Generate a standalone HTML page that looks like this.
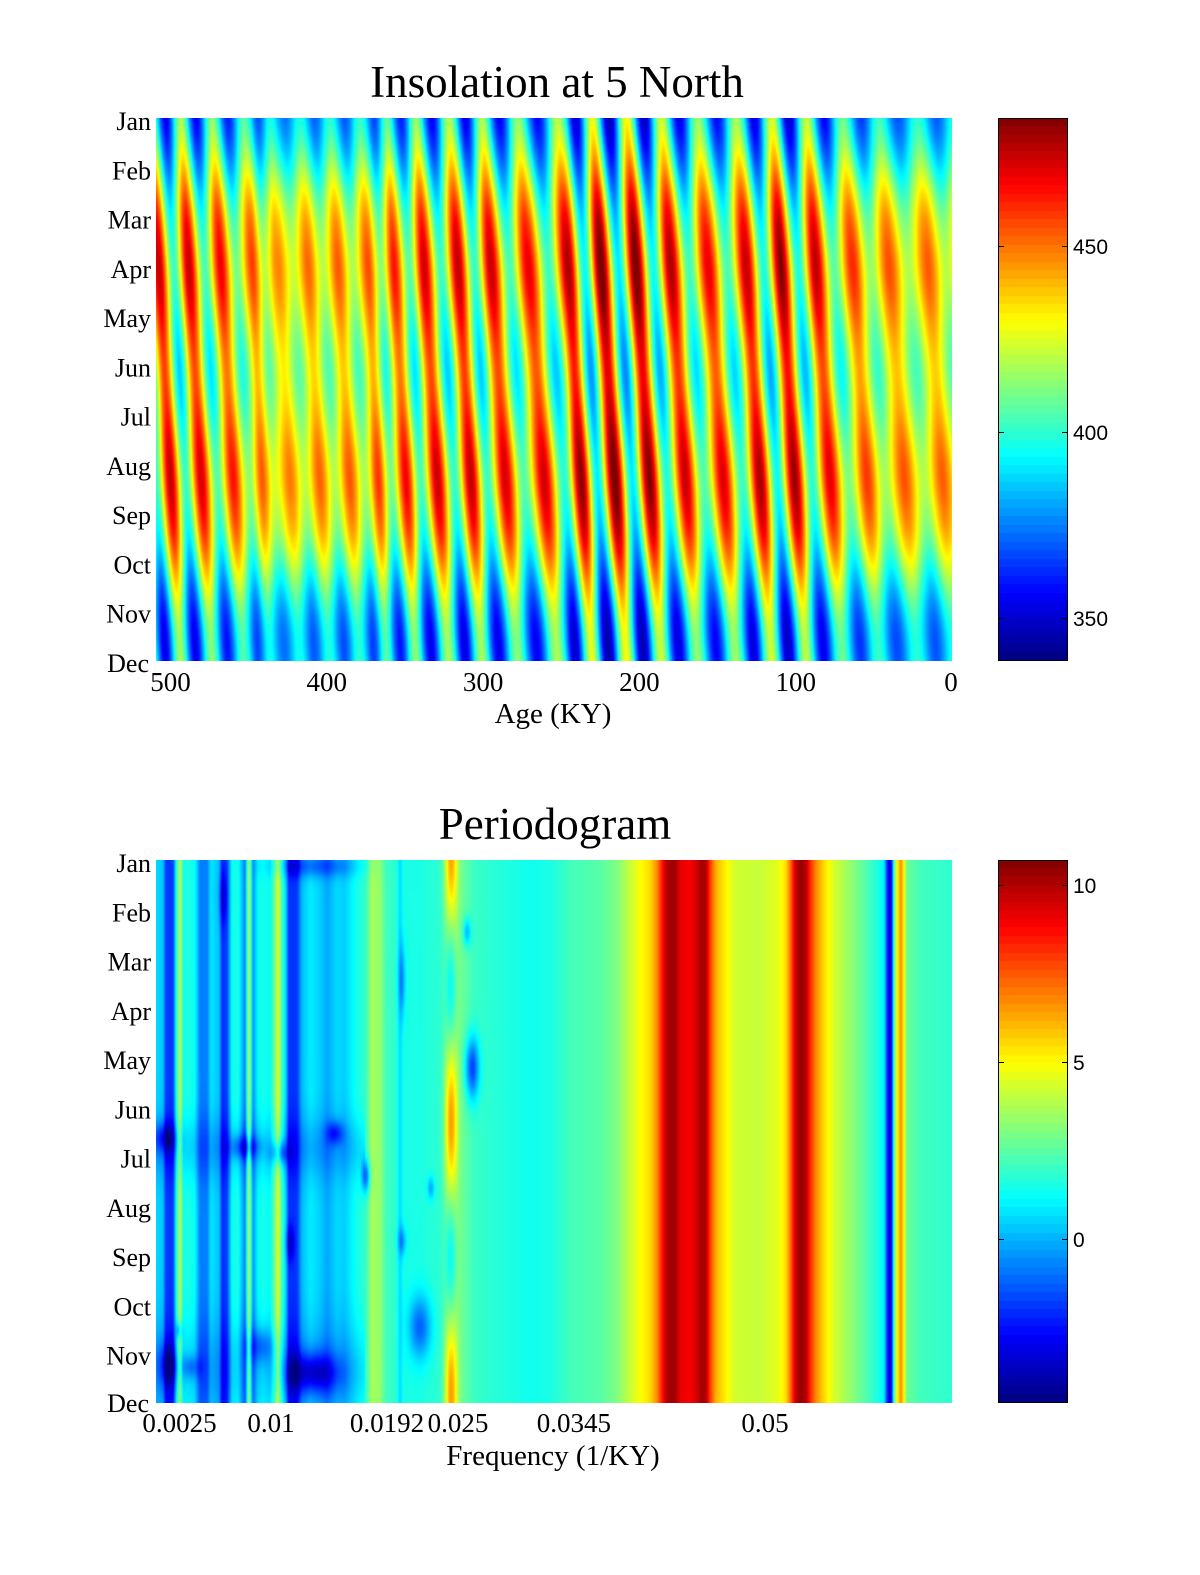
<!DOCTYPE html>
<html><head><meta charset="utf-8">
<style>
html,body{margin:0;padding:0;background:#fff;}
#wrap{position:relative;width:1200px;height:1575px;overflow:hidden;background:#fff;}
canvas{position:absolute;display:block;}
svg{position:absolute;left:0;top:0;}
.m{font-family:"Liberation Serif",serif;font-size:26px;fill:#000;}
.x{font-family:"Liberation Serif",serif;font-size:27px;fill:#000;}
.t{font-family:"Liberation Serif",serif;font-size:45px;fill:#000;}
.l{font-family:"Liberation Serif",serif;font-size:29px;fill:#000;}
.c{font-family:"Liberation Sans",sans-serif;font-size:21px;fill:#000;}
</style></head><body>
<div id="wrap">
<canvas id="c1" width="796" height="543" style="left:156px;top:118px"></canvas>
<canvas id="c2" width="796" height="543" style="left:156px;top:860px"></canvas>
<canvas id="cb1" width="70" height="543" style="left:998px;top:118px"></canvas>
<canvas id="cb2" width="70" height="543" style="left:998px;top:860px"></canvas>
<svg width="1200" height="1575" xmlns="http://www.w3.org/2000/svg">
<text class="t" x="557" y="97" text-anchor="middle">Insolation at 5 North</text>
<text class="t" x="555" y="839" text-anchor="middle">Periodogram</text>
<g class="m" text-anchor="end">
<text x="151" y="130">Jan</text><text x="151" y="179.3">Feb</text><text x="151" y="228.5">Mar</text>
<text x="151" y="277.8">Apr</text><text x="151" y="327.1">May</text><text x="151" y="376.4">Jun</text>
<text x="151" y="425.6">Jul</text><text x="151" y="474.9">Aug</text><text x="151" y="524.2">Sep</text>
<text x="151" y="573.5">Oct</text><text x="151" y="622.7">Nov</text><text x="149" y="672">Dec</text>
<text x="151" y="872">Jan</text><text x="151" y="921.3">Feb</text><text x="151" y="970.5">Mar</text>
<text x="151" y="1019.8">Apr</text><text x="151" y="1069.1">May</text><text x="151" y="1118.4">Jun</text>
<text x="151" y="1167.6">Jul</text><text x="151" y="1216.9">Aug</text><text x="151" y="1266.2">Sep</text>
<text x="151" y="1315.5">Oct</text><text x="151" y="1364.7">Nov</text><text x="149" y="1412">Dec</text>
</g>
<g class="x" text-anchor="middle">
<text x="170.5" y="691">500</text><text x="326.8" y="691">400</text><text x="483.1" y="691">300</text>
<text x="639.4" y="691">200</text><text x="795.7" y="691">100</text><text x="951" y="691">0</text>
<text x="179.5" y="1432">0.0025</text><text x="271" y="1432">0.01</text><text x="387" y="1432">0.0192</text>
<text x="458" y="1432">0.025</text><text x="573.9" y="1432">0.0345</text><text x="765" y="1432">0.05</text>
</g>
<text class="l" x="553" y="723" text-anchor="middle">Age (KY)</text>
<text class="l" x="553" y="1465" text-anchor="middle">Frequency (1/KY)</text>
<g stroke="#000" stroke-width="1" fill="none">
<rect x="998.5" y="118.5" width="69" height="542"/>
<rect x="998.5" y="860.5" width="69" height="542"/>
<path d="M999 246.5h5M1062 246.5h5M999 432.5h5M1062 432.5h5M999 618.5h5M1062 618.5h5"/>
<path d="M999 885.5h5M1062 885.5h5M999 1062.5h5M1062 1062.5h5M999 1239.5h5M1062 1239.5h5"/>
</g>
<g class="c">
<text x="1073" y="254">450</text><text x="1073" y="440">400</text><text x="1073" y="626">350</text>
<text x="1073" y="893">10</text><text x="1073" y="1070">5</text><text x="1073" y="1247">0</text>
</g>
</svg>
</div>
<script>
(function(){
function cl(a){return a<0?0:(a>1?1:a);}
function jet(v){v=cl(v);return [cl(1.5-Math.abs(4*v-3))*255,cl(1.5-Math.abs(4*v-2))*255,cl(1.5-Math.abs(4*v-1))*255];}
function interp(k,x){
  if(x<=k[0][0])return k[0][1];
  for(var i=0;i<k.length-1;i++){
    if(x<=k[i+1][0]){var t=(x-k[i][0])/(k[i+1][0]-k[i][0]);return k[i][1]+t*(k[i+1][1]-k[i][1]);}
  }
  return k[k.length-1][1];
}
var W=796,H=543;
/* ---------- Insolation ---------- */
var c1=document.getElementById('c1'),g1=c1.getContext('2d');
var im=g1.createImageData(W,H),d=im.data;
var phi=5*Math.PI/180,eps=23.44*Math.PI/180,C=1361/Math.PI;
var lam0=2*Math.PI*(88.7-80)/365;
var geom=new Float64Array(H),lam=new Float64Array(H),boost=new Float64Array(H);
for(var j=0;j<H;j++){
  var day=(j+0.5)/H*365;
  var l=2*Math.PI*(day-80)/365;lam[j]=l;
  var dl=Math.asin(Math.sin(eps)*Math.sin(l));
  var cc=-Math.tan(phi)*Math.tan(dl);cc=Math.max(-1,Math.min(1,cc));
  var h0=Math.acos(cc);
  geom[j]=h0*Math.sin(phi)*Math.sin(dl)+Math.cos(phi)*Math.cos(dl)*Math.sin(h0);
  boost[j]=10*Math.max(0,-Math.sin(l));
}
var peaks=[126,158,188,220,252,277,307,337,367,393,423,457,490,527,567,600,635,670,707,745,780,815,852,888,927,964];
function kOf(X){for(var i=0;i<peaks.length-1;i++){if(X<=peaks[i+1])return i+(X-peaks[i])/(peaks[i+1]-peaks[i]);}return peaks.length-1;}
var ecc=[[156,0.042],[188,0.042],[220,0.036],[252,0.025],[277,0.013],[307,0.018],[337,0.02],[367,0.022],[393,0.031],[423,0.04],[457,0.043],[490,0.042],[527,0.036],[567,0.046],[600,0.056],[635,0.056],[670,0.046],[707,0.036],[745,0.042],[780,0.052],[815,0.044],[852,0.028],[888,0.022],[927,0.02],[952,0.019]];
for(var i=0;i<W;i++){
  var X=156+i+0.5;
  var w=lam0+2*Math.PI*kOf(X);
  var e=interp(ecc,X);
  for(var j=0;j<H;j++){
    var f=(1+e*Math.cos(lam[j]-w))/(1-e*e);
    var Q=C*geom[j]*f*f+boost[j];
    var col=jet((Q-338.7)/(484.4-338.7));
    var p=(j*W+i)*4;d[p]=col[0];d[p+1]=col[1];d[p+2]=col[2];d[p+3]=255;
  }
}
g1.putImageData(im,0,0);
/* ---------- Periodogram ---------- */
var c2=document.getElementById('c2'),g2=c2.getContext('2d');
var im2=g2.createImageData(W,H),d2=im2.data;
var prof=[[156,0.34],[163,0.32],[166,0.18],[173,0.18],[176,0.38],[180,0.58],[183,0.40],[190,0.40],[195,0.38],[200,0.25],[207,0.25],[211,0.35],[219,0.32],[222,0.17],[227,0.19],[232,0.39],[238,0.40],[245,0.25],[249,0.57],[253,0.27],[258,0.38],[263,0.40],[270,0.38],[274,0.47],[278,0.60],[282,0.44],[286,0.33],[289,0.17],[297,0.18],[302,0.31],[310,0.36],[320,0.33],[327,0.29],[337,0.34],[345,0.33],[352,0.37],[358,0.40],[366,0.43],[372,0.54],[380,0.52],[386,0.44],[396,0.42],[400,0.34],[404,0.40],[420,0.40],[440,0.42],[446,0.46],[451,0.45],[457,0.50],[465,0.47],[475,0.43],[500,0.41],[530,0.39],[550,0.40],[570,0.44],[600,0.46],[617,0.50],[630,0.57],[640,0.62],[650,0.66],[657,0.74],[662,0.85],[667,0.96],[675,0.97],[680,0.90],[690,0.88],[697,0.92],[702,0.97],[706,0.95],[710,0.82],[716,0.70],[725,0.64],[735,0.58],[760,0.57],[778,0.60],[786,0.66],[791,0.78],[795,0.92],[800,0.98],[806,0.95],[810,0.84],[816,0.74],[824,0.66],[835,0.58],[850,0.52],[865,0.46],[878,0.40],[884,0.36],[887,0.18],[890,0.06],[892,0.18],[894,0.45],[897,0.62],[901,0.74],[904,0.62],[907,0.48],[920,0.44],[935,0.43],[952,0.42]];
var blobs=[[223,897,3,18,-0.1],[315,866,30,8,-0.12],[335,1133,6,8,-0.15],[165,1138,8,10,-0.15],[472,1068,5,22,-0.25],[467,932,3,10,-0.15],[245,1147,10,8,-0.15],[280,1153,6,8,-0.15],[366,1176,3,12,-0.2],[290,1243,3,12,-0.12],[402,1241,3,10,-0.12],[431,1188,2.5,8,-0.12],[420,1327,8,22,-0.18],[313,1373,18,14,-0.22],[168,1365,7,15,-0.15],[191,1367,7,8,-0.1],[260,1346,10,12,-0.12],[179,1330,2,6,-0.15],[402,980,2.5,25,-0.12]];
var pcol=new Float64Array(W);
for(var i=0;i<W;i++)pcol[i]=interp(prof,156+i+0.5);
for(var j=0;j<H;j++){
  var Y=860+j+0.5;
  var day=(j+0.5)/H*365;
  var s=Math.sin(2*Math.PI*(day-85)/365);var wl=s*s;
  var rowmod=-0.06*(Math.exp(-Math.pow((Y-1148)/22,2)/2)+Math.exp(-Math.pow((Y-1370)/35,2)/2));
  for(var i=0;i<W;i++){
    var X=156+i+0.5;
    var v=pcol[i];
    var gx=Math.exp(-Math.pow((X-451)/4,2)/2);
    v+=gx*(0.34*wl-0.07);
    if(X<365)v+=rowmod;
    for(var b=0;b<blobs.length;b++){
      var B=blobs[b];var dx=(X-B[0])/B[2],dy=(Y-B[1])/B[3];
      var q=dx*dx+dy*dy;if(q<20)v+=B[4]*Math.exp(-q/2);
    }
    var col=jet(v);
    var p=(j*W+i)*4;d2[p]=col[0];d2[p+1]=col[1];d2[p+2]=col[2];d2[p+3]=255;
  }
}
g2.putImageData(im2,0,0);
/* ---------- Colorbars ---------- */
['cb1','cb2'].forEach(function(id){
  var g=document.getElementById(id).getContext('2d');
  var n=64;
  for(var k=0;k<n;k++){
    var v=(n-1-k+0.5)/n;var col=jet(v);
    g.fillStyle='rgb('+Math.round(col[0])+','+Math.round(col[1])+','+Math.round(col[2])+')';
    var y0=Math.floor(k*H/n),y1=Math.floor((k+1)*H/n);
    g.fillRect(0,y0,70,y1-y0);
  }
});
})();
</script>
</body></html>
